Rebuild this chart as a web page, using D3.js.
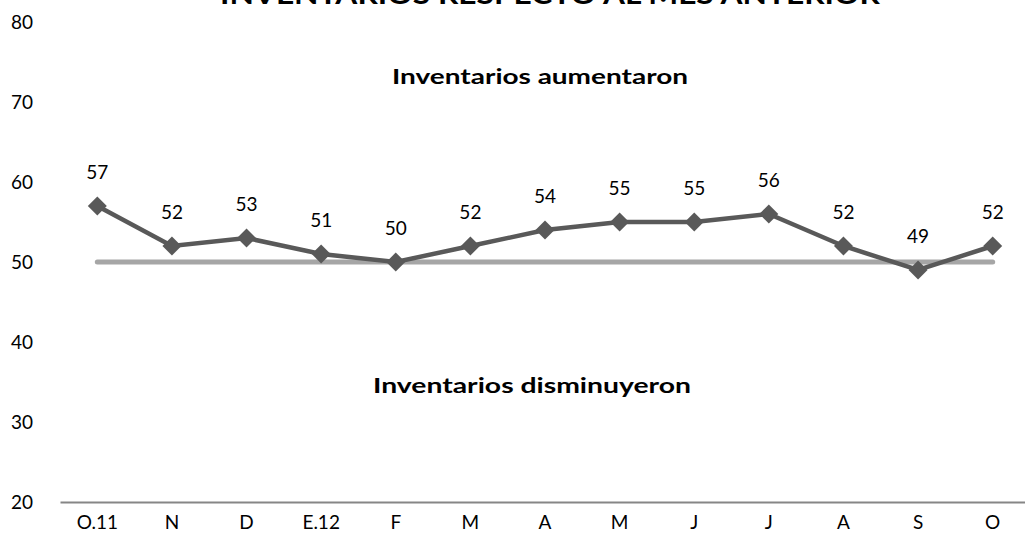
<!DOCTYPE html>
<html>
<head>
<meta charset="utf-8">
<script src="https://cdn.jsdelivr.net/npm/d3@7"></script>
<style>
  body { margin: 0; background: #fff; }
  text { font-family: Lato, "Open Sans", sans-serif; fill: #000; }
</style>
</head>
<body>
<div id="chart"></div>
<script>
// month labels and index values
var months = ["O.11", "N", "D", "E.12", "F", "M", "A", "M", "J", "J", "A", "S", "O"];
var values = [57, 52, 53, 51, 50, 52, 54, 55, 55, 56, 52, 49, 52];
var yTicks = [20, 30, 40, 50, 60, 70, 80];
var baseValue = 50;

var svgWidth = 1025, svgHeight = 552;
var margin = { top: 22, bottom: 50, left: 60, right: -5 };
var width = svgWidth - margin.left - margin.right;
var height = svgHeight - margin.top - margin.bottom;

var svg = d3.select("#chart").append("svg")
  .attr("width", svgWidth)
  .attr("height", svgHeight);

var g = svg.append("g")
  .attr("transform", `translate(${margin.left}, ${margin.top})`);

// keys so repeated month letters stay distinct
var keys = months.map((m, i) => i);

var x = d3.scaleBand()
  .domain(keys)
  .range([0, width]);

var y = d3.scaleLinear()
  .domain([20, 80])
  .range([height, 0]);

var cx = i => x(i) + x.bandwidth() / 2;

// title (cut off at top, as in the original)
svg.append("text")
  .attr("x", 550)
  .attr("y", 4)
  .attr("text-anchor", "middle")
  .attr("font-weight", "bold")
  .attr("font-size", 26)
  .attr("textLength", 660)
  .attr("lengthAdjust", "spacingAndGlyphs")
  .text("INVENTARIOS RESPECTO AL MES ANTERIOR");

// y axis labels only
var yAxis = g.append("g")
  .call(d3.axisLeft(y).tickValues(yTicks).tickSize(0).tickPadding(27));
yAxis.select(".domain").remove();
yAxis.selectAll("text")
  .attr("font-size", 19)
  .attr("font-family", "Lato, Open Sans, sans-serif")
  .attr("fill", "#000");

// x axis
var xAxis = g.append("g")
  .attr("transform", `translate(0, ${height})`)
  .call(d3.axisBottom(x).tickSize(0).tickPadding(14).tickFormat(i => months[i]));
xAxis.select(".domain")
  .attr("stroke", "#868686")
  .attr("stroke-width", 2);
xAxis.selectAll("text")
  .attr("font-size", 19)
  .attr("font-family", "Lato, Open Sans, sans-serif")
  .attr("fill", "#000");

// reference line at 50
g.append("line")
  .attr("x1", cx(0))
  .attr("x2", cx(keys.length - 1))
  .attr("y1", y(baseValue))
  .attr("y2", y(baseValue))
  .attr("stroke", "#a6a6a6")
  .attr("stroke-width", 5)
  .attr("stroke-linecap", "round");

// annotations
g.append("text")
  .attr("x", 480)
  .attr("y", y(72.2))
  .attr("text-anchor", "middle")
  .attr("font-weight", "bold")
  .attr("font-size", 21)
  .attr("textLength", 296)
  .attr("lengthAdjust", "spacingAndGlyphs")
  .text("Inventarios aumentaron");

g.append("text")
  .attr("x", 472)
  .attr("y", y(33.6))
  .attr("text-anchor", "middle")
  .attr("font-weight", "bold")
  .attr("font-size", 21)
  .attr("textLength", 318)
  .attr("lengthAdjust", "spacingAndGlyphs")
  .text("Inventarios disminuyeron");

// data line
var line = d3.line()
  .x((d, i) => cx(i))
  .y(d => y(d));

g.append("path")
  .datum(values)
  .attr("fill", "none")
  .attr("stroke", "#595959")
  .attr("stroke-width", 4.5)
  .attr("d", line);

// diamond markers
g.selectAll(".marker")
  .data(values)
  .enter()
  .append("path")
  .attr("class", "marker")
  .attr("d", d3.symbol().type(d3.symbolSquare).size(180))
  .attr("transform", (d, i) => `translate(${cx(i)}, ${y(d)}) rotate(45)`)
  .attr("fill", "#595959");

// value labels
g.selectAll(".vlabel")
  .data(values)
  .enter()
  .append("text")
  .attr("class", "vlabel")
  .attr("x", (d, i) => cx(i))
  .attr("y", d => y(d) - 27)
  .attr("text-anchor", "middle")
  .attr("font-size", 19)
  .text(d => d);
</script>
</body>
</html>
